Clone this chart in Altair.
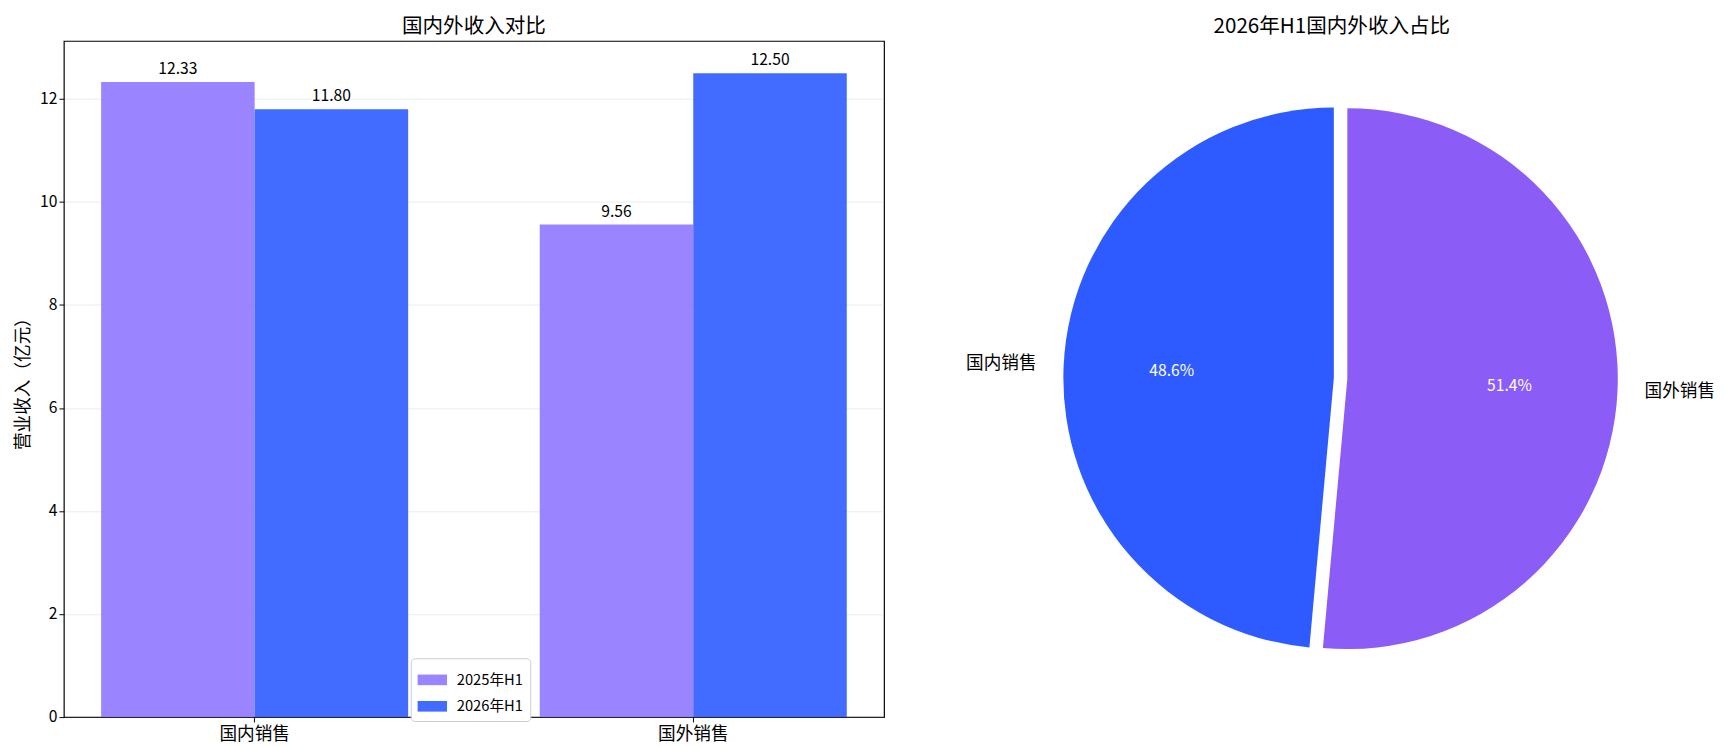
import altair as alt
import pandas as pd

# ---------------- data ----------------
categories = ["国内销售", "国外销售"]
periods = ["2025年H1", "2026年H1"]
rev_2025 = [12.33, 9.56]
rev_2026 = [11.80, 12.50]
explode = [0.0, 0.05]
y_ticks = [0, 2, 4, 6, 8, 10, 12]
bar_title = "国内外收入对比"
pie_title = "2026年H1国内外收入占比"
y_title = "营业收入（亿元）"

FONT = "Noto Sans CJK SC"

rows = []
for i, c in enumerate(categories):
    rows.append({"cat": c, "period": periods[0], "value": rev_2025[i]})
    rows.append({"cat": c, "period": periods[1], "value": rev_2026[i]})
bar_df = pd.DataFrame(rows)

pie_df = pd.DataFrame({"cat": categories, "value": rev_2026,
                       "idx": list(range(len(categories))), "explode": explode})

bar_colors = ["#9077FF", "#2E5BFF"]
pie_colors = ["#2E5BFF", "#8B5CF6"]

# ---------------- left: grouped bars ----------------
base = alt.Chart(bar_df).encode(
    x=alt.X("cat:N", sort=categories,
            scale=alt.Scale(paddingInner=0.3, paddingOuter=0.085),
            axis=alt.Axis(title=None, labelAngle=0, labelFont=FONT, labelFontSize=18,
                          labelColor="#000", tickColor="#000", tickSize=5, domain=False,
                          labelPadding=4)),
    xOffset=alt.XOffset("period:N", sort=periods,
                        scale=alt.Scale(paddingInner=0, paddingOuter=0)),
    y=alt.Y("value:Q", scale=alt.Scale(domain=[0, 13.125], nice=False, zero=True),
            axis=alt.Axis(values=y_ticks, title=y_title, titleFont=FONT, titleFontSize=18,
                          titleFontWeight="normal", titleColor="#000", titlePadding=7,
                          labelFont=FONT, labelFontSize=16, labelColor="#000",
                          tickColor="#000", tickSize=5, domain=False,
                          grid=True, gridColor="#b0b0b0", gridOpacity=0.3, gridWidth=0.8)),
)

bars = base.mark_bar(opacity=0.9).encode(
    color=alt.Color("period:N", sort=periods,
                    scale=alt.Scale(domain=periods, range=bar_colors),
                    legend=alt.Legend(title=None, orient="none", legendX=354, legendY=630,
                                      labelFont=FONT, labelFontSize=15, labelColor="#000",
                                      symbolType="M-1,-0.36H1V0.36H-1Z", symbolSize=900,
                                      symbolStrokeWidth=0, symbolOpacity=0.9,
                                      fillColor="white", strokeColor="#cccccc",
                                      cornerRadius=4, padding=7, rowPadding=4,
                                      labelOffset=10))
)

value_labels = base.mark_text(baseline="bottom", dy=-5, font=FONT, fontSize=16,
                              color="#000").encode(
    text=alt.Text("value:Q", format=".2f")
)

left = alt.layer(bars, value_labels).properties(
    width=837, height=690,
    title=alt.TitleParams(bar_title, font=FONT, fontSize=21, fontWeight="normal",
                          color="#000", anchor="middle", offset=1, dy=-3),
    view=alt.ViewBackground(stroke="#000", strokeWidth=1.2),
)

# ---------------- right: pie ----------------
CX, CY, R = 341, 344, 276

pie_base = alt.Chart(pie_df).transform_joinaggregate(
    total="sum(value)"
).transform_window(
    cum="sum(value)", sort=[alt.SortField("idx", order="descending")]
).transform_calculate(
    t0="(datum.cum - datum.value) / datum.total",
    t1="datum.cum / datum.total",
    tm="(datum.cum - datum.value / 2) / datum.total",
    pct="datum.value / datum.total",
    ex="datum.explode * sin(2 * PI * (datum.cum - datum.value / 2) / datum.total)",
    ey="-datum.explode * cos(2 * PI * (datum.cum - datum.value / 2) / datum.total)",
)

x_enc = alt.X("ex:Q", scale=alt.Scale(domain=[-1, 1], range=[CX - R, CX + R]), axis=None)
y_enc = alt.Y("ey:Q", scale=alt.Scale(domain=[-1, 1], range=[CY - R, CY + R]), axis=None)
theta_scale = alt.Scale(domain=[0, 1], range=[0, 6.283185307179586])

arcs = pie_base.mark_arc(outerRadius=R).encode(
    theta=alt.Theta("t0:Q", scale=theta_scale),
    theta2="t1:Q",
    color=alt.Color("cat:N", scale=alt.Scale(domain=categories, range=pie_colors), legend=None),
    x=x_enc, y=y_enc,
)

pct_text = pie_base.mark_text(radius=R * 0.6, font=FONT, fontSize=16, color="white",
                              baseline="middle", align="center").encode(
    theta=alt.Theta("tm:Q", scale=theta_scale),
    text=alt.Text("pct:Q", format=".1%"),
    x=x_enc, y=y_enc,
)

name_left = pie_base.transform_filter("datum.tm > 0.5").mark_text(
    radius=R * 1.1, font=FONT, fontSize=18, color="#000", baseline="middle", align="right"
).encode(
    theta=alt.Theta("tm:Q", scale=theta_scale),
    text="cat:N",
    x=x_enc, y=y_enc,
)

name_right = pie_base.transform_filter("datum.tm <= 0.5").mark_text(
    radius=R * 1.1, font=FONT, fontSize=18, color="#000", baseline="middle", align="left"
).encode(
    theta=alt.Theta("tm:Q", scale=theta_scale),
    text="cat:N",
    x=x_enc, y=y_enc,
)

right = alt.layer(arcs, pct_text, name_left, name_right).properties(
    width=678, height=690,
    title=alt.TitleParams(pie_title, font=FONT, fontSize=21, fontWeight="normal",
                          color="#000", anchor="middle", offset=1, dy=-3),
    view=alt.ViewBackground(strokeWidth=0),
)

chart = alt.hconcat(left, right, spacing=82).resolve_scale(
    color="independent", x="independent", y="independent", theta="independent"
).properties(
    padding={"left": 6, "top": 0, "right": 0, "bottom": 0},
).configure_view(strokeWidth=0).configure(background="white")

chart.save("out.html", embed_options={"renderer": "svg", "actions": False})
